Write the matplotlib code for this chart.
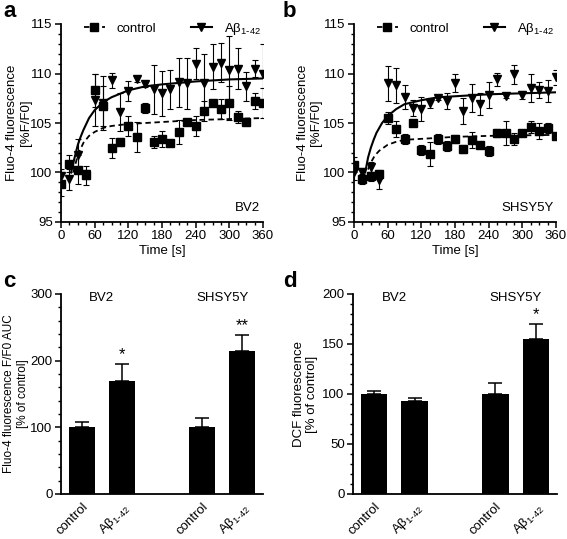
import numpy as np
import matplotlib
matplotlib.use("Agg")
import matplotlib.pyplot as plt
from matplotlib.ticker import MultipleLocator

plt.rcParams['font.family'] = ['Liberation Sans', 'DejaVu Sans']
plt.rcParams['font.size'] = 9
plt.rcParams['mathtext.default'] = 'regular'

# ---------------- data ----------------
time_s = [0, 15, 30, 45, 60, 75, 90, 105, 120, 135, 150, 165, 180, 195, 210,
          225, 240, 255, 270, 285, 300, 315, 330, 345, 360]

bv2_ctrl = [98.8, 100.9, 100.3, 99.7, 108.3, 106.7, 102.5, 103.1, 104.7, 103.6,
            106.5, 103.1, 103.4, 103.0, 104.1, 105.1, 104.7, 106.2, 107.0, 106.4,
            107.0, 105.6, 105.1, 107.2, 107.0]
bv2_ctrl_err = [1.2, 0.9, 1.5, 1.0, 1.7, 2.0, 1.0, 0.4, 1.0, 1.5, 0.5, 0.6, 0.8,
                0.1, 1.2, 0.3, 1.0, 1.0, 0.3, 1.0, 1.7, 0.6, 0.1, 0.8, 1.5]
bv2_abeta = [99.6, 99.3, 101.8, 99.8, 107.3, 107.0, 109.3, 106.1, 108.2, 109.4,
             108.9, 108.4, 108.0, 108.4, 109.1, 109.0, 111.0, 109.0, 110.7, 111.1,
             110.4, 110.5, 108.7, 110.5, 110.0]
bv2_abeta_err = [0.8, 1.1, 1.6, 0.5, 2.6, 2.7, 0.8, 1.9, 1.0, 0.3, 0.3, 2.5, 2.3,
                 2.0, 2.5, 2.6, 1.6, 3.0, 2.3, 2.0, 3.4, 2.1, 1.5, 0.9, 3.0]

sh_ctrl = [100.8, 99.3, 99.6, 99.8, 105.5, 104.4, 103.4, 105.0, 102.3, 101.9,
           103.4, 102.7, 103.4, 102.4, 103.3, 102.8, 102.2, 104.0, 104.0, 103.4,
           104.0, 104.6, 104.2, 104.5, 103.7]
sh_ctrl_err = [0.8, 0.5, 0.5, 0.5, 0.6, 0.8, 0.5, 0.3, 0.5, 1.2, 0.5, 0.5, 0.4,
               0.4, 0.8, 0.2, 0.5, 0.4, 1.2, 0.6, 0.2, 0.6, 0.8, 0.5, 0.3]
sh_abeta = [100.0, 100.0, 100.6, 99.2, 109.0, 108.8, 107.6, 106.5, 106.4, 107.0,
            107.5, 107.2, 109.0, 106.2, 107.5, 106.9, 107.8, 109.4, 107.7, 109.9,
            107.8, 108.5, 108.3, 108.2, 109.6]
sh_abeta_err = [0.8, 0.5, 0.5, 0.9, 1.8, 1.8, 1.2, 0.8, 1.2, 0.5, 0.2, 0.8, 0.9,
                1.3, 1.4, 1.1, 1.3, 0.7, 0.2, 1.0, 0.4, 1.4, 0.8, 1.1, 0.8]

# fitted curves
fit_bv2_ctrl_t = [22, 30, 40, 50, 60, 75, 90, 120, 180, 240, 300, 360]
fit_bv2_ctrl_y = [100.0, 101.8, 103.0, 103.7, 104.1, 104.5, 104.7, 104.9, 105.1, 105.3, 105.4, 105.5]
fit_bv2_ab_t = [18, 22, 26, 30, 35, 40, 50, 60, 75, 90, 120, 150, 180, 240, 300, 360]
fit_bv2_ab_y = [100.0, 101.0, 101.9, 102.8, 103.6, 104.3, 105.5, 106.3, 107.1, 107.6, 108.3, 108.7, 108.9, 109.2, 109.4, 109.5]
fit_sh_ctrl_t = [25, 30, 37, 45, 60, 75, 90, 120, 180, 240, 300, 360]
fit_sh_ctrl_y = [100.3, 101.0, 101.7, 102.2, 102.8, 103.1, 103.3, 103.4, 103.6, 103.7, 103.75, 103.8]
fit_sh_ab_t = [20, 25, 30, 35, 40, 50, 60, 75, 90, 120, 150, 180, 240, 300, 360]
fit_sh_ab_y = [100.0, 101.5, 102.5, 103.3, 104.0, 105.0, 105.7, 106.4, 106.9, 107.3, 107.6, 107.7, 107.9, 108.0, 108.1]

abeta_lab = r'Aβ$_{1\text{-}42}$'
bar_labels = ['control', abeta_lab]
group_names = ['BV2', 'SHSY5Y']
auc_mean = [100, 170, 100, 215]
auc_err = [8, 25, 14, 24]
auc_sig = ['', '*', '', '**']
dcf_mean = [100, 93, 100, 155]
dcf_err = [3.5, 3.5, 11.5, 15.5]
dcf_sig = ['', '', '', '*']

# ---------------- figure ----------------
fig = plt.figure(figsize=(5.67, 5.39), dpi=100)

W, H = 567, 539
def ax_at(l, r, t, b):
    return fig.add_axes([l / W, 1 - b / H, (r - l) / W, (b - t) / H])

ax_a = ax_at(61, 263, 24, 222)
ax_b = ax_at(354, 556, 24, 222)
ax_c = ax_at(61, 263, 294, 494)
ax_d = ax_at(353, 557, 294, 494)

def style(ax):
    for s in ['top', 'right']:
        ax.spines[s].set_visible(False)
    for s in ['left', 'bottom']:
        ax.spines[s].set_linewidth(1.3)
    ax.tick_params(which='major', length=4, width=1.1, labelsize=9.5, pad=2)
    ax.tick_params(which='minor', length=2.5, width=1.0)

def time_panel(ax, ctrl, ctrl_err, ab, ab_err, fct, fcy, fat, fay, cell, ylx):
    style(ax)
    ax.plot(fct, fcy, color='black', lw=1.3, ls=(0, (3, 2)), zorder=2)
    ax.plot(fat, fay, color='black', lw=1.5, zorder=2)
    ax.errorbar(time_s, ctrl, yerr=ctrl_err, fmt='s', color='black', ms=5.5,
                capsize=2.5, elinewidth=0.8, capthick=0.8, zorder=3)
    ax.errorbar(time_s, ab, yerr=ab_err, fmt='v', color='black', ms=5.5,
                capsize=2.5, elinewidth=0.8, capthick=0.8, zorder=3)
    ax.set_xlim(0, 360)
    ax.set_ylim(95, 115)
    ax.set_xticks([0, 60, 120, 180, 240, 300, 360])
    ax.xaxis.set_minor_locator(MultipleLocator(15))
    ax.set_yticks([95, 100, 105, 110, 115])
    ax.yaxis.set_minor_locator(MultipleLocator(1))
    ax.set_xlabel('Time [s]', fontsize=9.5, labelpad=2)
    ax.set_ylabel('Fluo-4 fluorescence\n[%F/F0]', fontsize=9.5, linespacing=1.15)
    ax.yaxis.set_label_coords(ylx, 0.5)
    ax.text(355, 95.8, cell, ha='right', va='bottom', fontsize=9.5)
    h1, = ax.plot([], [], color='black', lw=1.3, ls=(0, (3, 2)), marker='s', ms=5.5)
    h2, = ax.plot([], [], color='black', lw=1.5, marker='v', ms=5.5)
    ax.legend([h1, h2], ['control', abeta_lab], ncol=2, frameon=False,
              loc='upper center', bbox_to_anchor=(0.55, 1.075), fontsize=9.5,
              handlelength=1.6, columnspacing=2.6, handletextpad=0.9)

time_panel(ax_a, bv2_ctrl, bv2_ctrl_err, bv2_abeta, bv2_abeta_err,
           fit_bv2_ctrl_t, fit_bv2_ctrl_y, fit_bv2_ab_t, fit_bv2_ab_y, 'BV2', -0.145)
time_panel(ax_b, sh_ctrl, sh_ctrl_err, sh_abeta, sh_abeta_err,
           fit_sh_ctrl_t, fit_sh_ctrl_y, fit_sh_ab_t, fit_sh_ab_y, 'SHSY5Y', -0.158)

pos = [0, 1, 3, 4]

def bar_panel(ax, means, errs, sigs, ymax, major, minor, ylabel, ylfs, ylx, grp_y, star_off):
    style(ax)
    ax.bar(pos, means, width=0.66, color='black', zorder=2)
    ax.errorbar(pos, means, yerr=[[0] * 4, errs], fmt='none', ecolor='black',
                capsize=5, elinewidth=1.1, capthick=1.1, zorder=1)
    for p, m, e, s in zip(pos, means, errs, sigs):
        if s:
            ax.text(p, m + e + star_off, s, ha='center', va='bottom', fontsize=12)
    ax.set_xlim(-0.52, 4.52)
    ax.set_ylim(0, ymax)
    ax.yaxis.set_major_locator(MultipleLocator(major))
    ax.yaxis.set_minor_locator(MultipleLocator(minor))
    ax.set_xticks(pos)
    ax.set_xticklabels(bar_labels * 2, rotation=45, ha='right', rotation_mode='anchor',
                       fontsize=9.5)
    ax.tick_params(axis='x', length=0, pad=5)
    ax.set_ylabel(ylabel, fontsize=ylfs, linespacing=1.15)
    ax.yaxis.set_label_coords(ylx, 0.5)
    ax.text(0.5, grp_y, group_names[0], ha='center', va='center', fontsize=9.5)
    ax.text(3.5, grp_y, group_names[1], ha='center', va='center', fontsize=9.5)

bar_panel(ax_c, auc_mean, auc_err, auc_sig, 300, 100, 20,
          'Fluo-4 fluorescence F/F0 AUC\n[% of control]', 8.5, -0.16, 294, 3)
bar_panel(ax_d, dcf_mean, dcf_err, dcf_sig, 200, 50, 10,
          'DCF fluorescence\n[% of control]', 9.5, -0.17, 196, 1)

for lab, x, y in [('a', 3, 1), ('b', 283, 1), ('c', 3, 271), ('d', 283, 271)]:
    fig.text(x / W, 1 - y / H, lab, fontsize=16, fontweight='bold', va='top', ha='left')

fig.savefig('out.png', dpi=100)
